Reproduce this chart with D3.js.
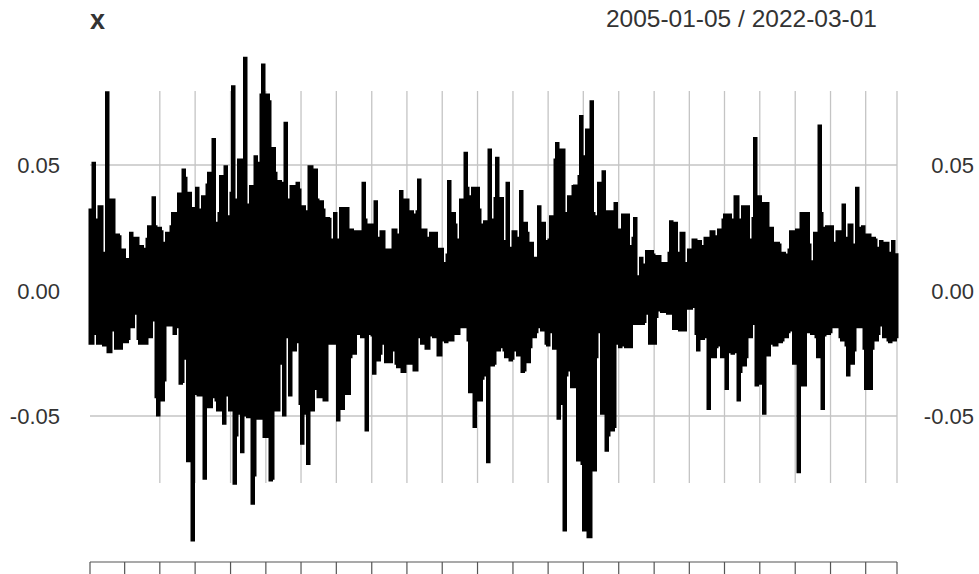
<!DOCTYPE html>
<html>
<head>
<meta charset="utf-8">
<script src="https://cdn.jsdelivr.net/npm/d3@7/dist/d3.min.js"></script>
<style>
  html, body { margin: 0; padding: 0; background: #ffffff; }
  svg { display: block; }
  text { font-family: "Liberation Sans", Arial, sans-serif; }
</style>
</head>
<body>
<svg id="chart" width="979" height="574"></svg>
<script>
// ---- data -------------------------------------------------------------
const seriesName = "x";
const startDate = "2005-01-05";
const endDate = "2022-03-01";

// highest and lowest daily return inside each consecutive ~23-day window
const highs = [
  0.0327, 0.0507, 0.0281, 0.0334, 0.0334, 0.0148, 0.0788, 0.0361, 0.0361, 0.0221,
  0.0214, 0.0161, 0.0124, 0.0124, 0.0228, 0.0208, 0.0208, 0.0175, 0.0164, 0.0204,
  0.0254, 0.0370, 0.0254, 0.0248, 0.0234, 0.0188, 0.0228, 0.0254, 0.0307, 0.0307,
  0.0384, 0.0480, 0.0447, 0.0387, 0.0327, 0.0327, 0.0407, 0.0321, 0.0374, 0.0420,
  0.0467, 0.0602, 0.0268, 0.0307, 0.0454, 0.0493, 0.0294, 0.0387, 0.0812, 0.0361,
  0.0520, 0.0520, 0.0925, 0.0341, 0.0414, 0.0533, 0.0507, 0.0779, 0.0898, 0.0779,
  0.0752, 0.0566, 0.0467, 0.0434, 0.0427, 0.0666, 0.0361, 0.0414, 0.0414, 0.0427,
  0.0400, 0.0334, 0.0314, 0.0493, 0.0493, 0.0480, 0.0361, 0.0354, 0.0321, 0.0287,
  0.0284, 0.0201, 0.0307, 0.0201,
  0.0327, 0.0327, 0.0327, 0.0241, 0.0234, 0.0234,
  0.0234, 0.0427, 0.0281, 0.0261, 0.0261, 0.0354, 0.0208, 0.0234, 0.0234, 0.0161,
  0.0161, 0.0241, 0.0241, 0.0221, 0.0394, 0.0361, 0.0361, 0.0314, 0.0301, 0.0314,
  0.0440, 0.0241, 0.0241, 0.0208, 0.0228, 0.0228, 0.0164, 0.0164, 0.0108, 0.0141,
  0.0434, 0.0307, 0.0261, 0.0201, 0.0361, 0.0547, 0.0407, 0.0374, 0.0407, 0.0407,
  0.0321, 0.0261, 0.0274, 0.0560, 0.0281, 0.0367, 0.0527, 0.0367, 0.0195, 0.0427,
  0.0168, 0.0234, 0.0234, 0.0208, 0.0394, 0.0268, 0.0228, 0.0188, 0.0128, 0.0128,
  0.0334, 0.0268, 0.0195, 0.0201, 0.0294, 0.0520, 0.0586, 0.0560, 0.0560, 0.0307,
  0.0374, 0.0414, 0.0416, 0.0454,
  0.0693, 0.0533, 0.0639, 0.0752, 0.0307, 0.0294,
  0.0427, 0.0473, 0.0314, 0.0314, 0.0314, 0.0347, 0.0241, 0.0241, 0.0301, 0.0301,
  0.0175, 0.0208, 0.0287, 0.0055, 0.0128, 0.0102, 0.0155, 0.0155, 0.0141, 0.0135,
  0.0135, 0.0108, 0.0108, 0.0148, 0.0274, 0.0268, 0.0148, 0.0228, 0.0228, 0.0108,
  0.0161, 0.0201, 0.0201, 0.0195, 0.0175, 0.0208, 0.0208, 0.0234, 0.0234, 0.0214,
  0.0241, 0.0281, 0.0301, 0.0301, 0.0281, 0.0374, 0.0374, 0.0281, 0.0334, 0.0334,
  0.0201, 0.0287, 0.0606, 0.0374, 0.0347, 0.0347, 0.0347, 0.0248, 0.0188, 0.0188,
  0.0181, 0.0148, 0.0141, 0.0161, 0.0234, 0.0234, 0.0241, 0.0307, 0.0307, 0.0307,
  0.0181, 0.0115, 0.0228, 0.0655, 0.0307, 0.0248, 0.0254, 0.0254, 0.0188, 0.0234,
  0.0234, 0.0341, 0.0208, 0.0261, 0.0261, 0.0181, 0.0407, 0.0248, 0.0254, 0.0221,
  0.0221, 0.0208, 0.0201, 0.0168, 0.0195, 0.0188, 0.0188, 0.0148, 0.0195, 0.0148
];

const lows = [
  -0.0210, -0.0210, -0.0171, -0.0210, -0.0210, -0.0217, -0.0244, -0.0244, -0.0157, -0.0230,
  -0.0230, -0.0204, -0.0204, -0.0191, -0.0144, -0.0091, -0.0191, -0.0210, -0.0210, -0.0210,
  -0.0184, -0.0118, -0.0423, -0.0496, -0.0436, -0.0357, -0.0137, -0.0137, -0.0171, -0.0144,
  -0.0370, -0.0363, -0.0270, -0.0678, -0.0994, -0.0410, -0.0416, -0.0416, -0.0748, -0.0463,
  -0.0463, -0.0423, -0.0436, -0.0476, -0.0476, -0.0529, -0.0416, -0.0476, -0.0768, -0.0576,
  -0.0489, -0.0642, -0.0496, -0.0503, -0.0848, -0.0735, -0.0509, -0.0509, -0.0582, -0.0582,
  -0.0755, -0.0748, -0.0476, -0.0476, -0.0290, -0.0496, -0.0184, -0.0416, -0.0237, -0.0204,
  -0.0450, -0.0609, -0.0489, -0.0689, -0.0476, -0.0390, -0.0423, -0.0423, -0.0436, -0.0436,
  -0.0210, -0.0210, -0.0210, -0.0516,
  -0.0470, -0.0410, -0.0410, -0.0264, -0.0250, -0.0171,
  -0.0171, -0.0184, -0.0556, -0.0171, -0.0177, -0.0330, -0.0277, -0.0250, -0.0210, -0.0284,
  -0.0284, -0.0237, -0.0290, -0.0304, -0.0323, -0.0323, -0.0290, -0.0290, -0.0317, -0.0317,
  -0.0184, -0.0210, -0.0230, -0.0230, -0.0177, -0.0184, -0.0257, -0.0257, -0.0197, -0.0204,
  -0.0197, -0.0197, -0.0171, -0.0171, -0.0144, -0.0144, -0.0197, -0.0403, -0.0542, -0.0436,
  -0.0436, -0.0350, -0.0337, -0.0682, -0.0297, -0.0290, -0.0237, -0.0224, -0.0237, -0.0264,
  -0.0277, -0.0270, -0.0237, -0.0257, -0.0323, -0.0317, -0.0284, -0.0224, -0.0184, -0.0164,
  -0.0144, -0.0157, -0.0210, -0.0217, -0.0164, -0.0230, -0.0509, -0.0450, -0.0954, -0.0337,
  -0.0317, -0.0383, -0.0383, -0.0675,
  -0.0689, -0.0954, -0.0981, -0.0981, -0.0715, -0.0264,
  -0.0164, -0.0489, -0.0636, -0.0576, -0.0556, -0.0542, -0.0210, -0.0224, -0.0217, -0.0224,
  -0.0224, -0.0131, -0.0131, -0.0131, -0.0131, -0.0124, -0.0091, -0.0210, -0.0210, -0.0104,
  -0.0078, -0.0084, -0.0084, -0.0091, -0.0091, -0.0151, -0.0151, -0.0157, -0.0157, -0.0071,
  -0.0071, -0.0064, -0.0171, -0.0237, -0.0191, -0.0184, -0.0470, -0.0264, -0.0264, -0.0224,
  -0.0217, -0.0264, -0.0390, -0.0244, -0.0250, -0.0244, -0.0436, -0.0323, -0.0297, -0.0264,
  -0.0184, -0.0131, -0.0376, -0.0370, -0.0370, -0.0489, -0.0257, -0.0210, -0.0217, -0.0217,
  -0.0204, -0.0197, -0.0184, -0.0164, -0.0157, -0.0290, -0.0722, -0.0376, -0.0376, -0.0164,
  -0.0164, -0.0171, -0.0184, -0.0264, -0.0470, -0.0177, -0.0171, -0.0164, -0.0144, -0.0144,
  -0.0184, -0.0197, -0.0217, -0.0337, -0.0290, -0.0237, -0.0144, -0.0144, -0.0230, -0.0390,
  -0.0390, -0.0230, -0.0197, -0.0171, -0.0137, -0.0184, -0.0197, -0.0204, -0.0197, -0.0184
];

const yTicks = [-0.05, 0, 0.05];
const yTickLabels = ["-0.05", "0.00", "0.05"];

const xTickDates = [
  "2005-01-05", "2005-10-01", "2006-07-01", "2007-04-01", "2008-01-01", "2008-10-01",
  "2009-07-01", "2010-04-01", "2011-01-01", "2011-10-01", "2012-07-01", "2013-04-01",
  "2014-01-01", "2014-10-01", "2015-07-01", "2016-04-01", "2017-01-01", "2017-10-01",
  "2018-07-01", "2019-04-01", "2020-01-01", "2020-10-01", "2021-07-01", "2022-03-01"
];

// ---- layout -----------------------------------------------------------
const svg = d3.select("#chart");
const parse = d3.utcParse("%Y-%m-%d");
const t0 = parse(startDate), t1 = parse(endDate);

const x = d3.scaleUtc().domain([t0, t1]).range([90, 897]);
const y = d3.scaleLinear().domain([-0.1, 0.1]).range([541.5, 39.5]);

const gridColor = "#c4c4c4";
const textColor = "#333333";
const gridSpan = [-0.0767, 0.0795];   // vertical extent of the vertical grid lines
const axisY = 562;

// horizontal grid
svg.append("g").selectAll("line").data(yTicks).join("line")
  .attr("x1", x(t0)).attr("x2", x(t1))
  .attr("y1", d => y(d)).attr("y2", d => y(d))
  .attr("stroke", gridColor).attr("stroke-width", 1.3);

// vertical grid (not drawn for the first two ticks)
const tickTimes = xTickDates.map(parse);
svg.append("g").selectAll("line").data(tickTimes.slice(2)).join("line")
  .attr("x1", d => x(d)).attr("x2", d => x(d))
  .attr("y1", y(gridSpan[1])).attr("y2", y(gridSpan[0]))
  .attr("stroke", gridColor).attr("stroke-width", 1.3);

// series: each window contributes its high and its low, alternating direction
const n = highs.length;
const step = (t1 - t0) / (n - 1);
const pts = [];
for (let i = 0; i < n; i++) {
  const d = new Date(+t0 + i * step);
  if (i % 2 === 0) { pts.push([d, highs[i]]); pts.push([d, lows[i]]); }
  else { pts.push([d, lows[i]]); pts.push([d, highs[i]]); }
}
const line = d3.line().curve(d3.curveStep).x(p => x(p[0])).y(p => y(p[1]));
svg.append("path")
  .attr("d", line(pts))
  .attr("fill", "none")
  .attr("stroke", "#000000")
  .attr("stroke-width", 3)
  .attr("stroke-linejoin", "miter");

// bottom time axis (tick marks only)
const axis = svg.append("g").attr("transform", `translate(0,${axisY})`);
axis.append("line").attr("x1", x(t0)).attr("x2", x(t1))
  .attr("stroke", "#555555").attr("stroke-width", 1.2);
axis.selectAll("line.tick").data(tickTimes).join("line")
  .attr("class", "tick")
  .attr("x1", d => x(d)).attr("x2", d => x(d))
  .attr("y1", 0).attr("y2", 16)
  .attr("stroke", "#555555").attr("stroke-width", 1.2);

// y labels on both sides
const ylab = (xpos) => svg.append("g").selectAll("text").data(yTicks).join("text")
  .attr("x", xpos).attr("y", d => y(d) + 8)
  .attr("text-anchor", "end")
  .attr("font-size", 22)
  .attr("fill", textColor)
  .text((d, i) => yTickLabels[i]);
ylab(60);
ylab(974);

// titles
svg.append("text").attr("x", 90).attr("y", 29)
  .attr("font-size", 27).attr("font-weight", "bold").attr("fill", textColor)
  .text(seriesName);
svg.append("text").attr("x", 877).attr("y", 27)
  .attr("text-anchor", "end").attr("font-size", 24.5).attr("fill", textColor)
  .text(`${startDate} / ${endDate}`);
</script>
</body>
</html>
